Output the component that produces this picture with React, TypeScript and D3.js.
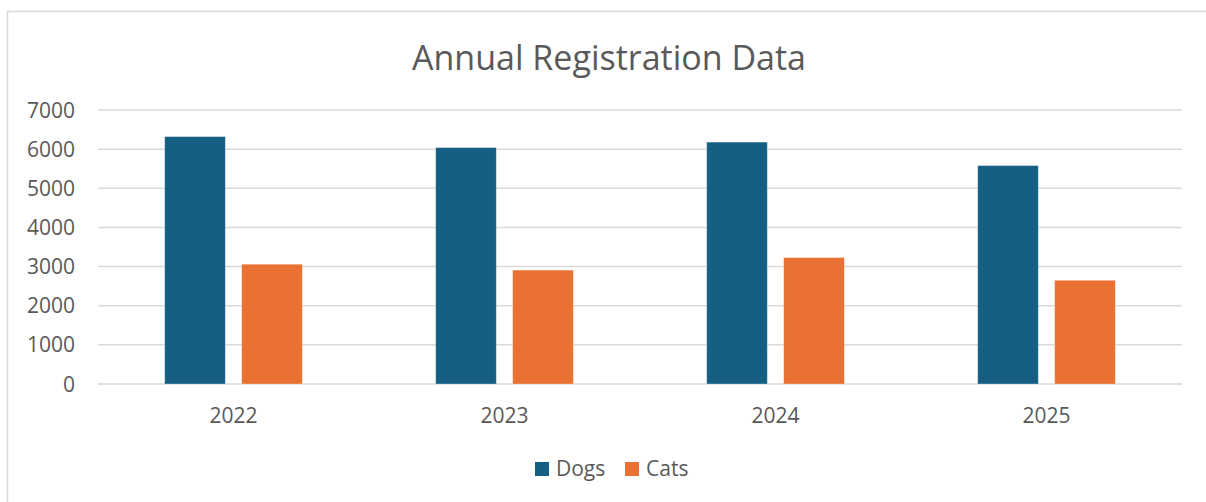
import React, { useEffect, useRef } from 'react';
import * as d3 from 'd3';

const years = ['2022', '2023', '2024', '2025'];
const seriesNames = ['Dogs', 'Cats'];
const dogs = [6320, 6040, 6180, 5580];
const cats = [3060, 2910, 3230, 2650];
const yTicks = [0, 1000, 2000, 3000, 4000, 5000, 6000, 7000];
const colors = ['#156082', '#E97132'];

const W = 1206;
const H = 502;
const FONT = "'Open Sans', sans-serif";

export default function App() {
  const ref = useRef<SVGSVGElement>(null);

  useEffect(() => {
    const svg = d3.select(ref.current);
    svg.selectAll('*').remove();

    const x = d3.scaleBand().domain(years).range([98, 1182]).padding(0);
    const groupW = 137.6;
    const x1 = d3.scaleBand().domain(seriesNames)
      .range([(x.bandwidth() - groupW) / 2, (x.bandwidth() + groupW) / 2])
      .paddingInner(0.213).paddingOuter(0);
    const y = d3.scaleLinear().domain([0, 7000]).range([384, 110]);

    // chart area border
    svg.append('rect')
      .attr('x', 7.5).attr('y', 11.5)
      .attr('width', 1220).attr('height', 520)
      .attr('fill', '#fff').attr('stroke', '#d9d9d9').attr('stroke-width', 1.5);

    svg.append('text')
      .attr('x', 609).attr('y', 70)
      .attr('text-anchor', 'middle')
      .attr('font-family', FONT).attr('font-size', 34)
      .attr('fill', '#595959')
      .text('Annual Registration Data');

    const grid = svg.append('g');
    grid.selectAll('line').data(yTicks).enter().append('line')
      .attr('x1', 98).attr('x2', 1182)
      .attr('y1', d => y(d)).attr('y2', d => y(d))
      .attr('stroke', '#d9d9d9').attr('stroke-width', 1.5);

    grid.selectAll('text').data(yTicks).enter().append('text')
      .attr('x', 75).attr('y', d => y(d))
      .attr('dy', '0.36em')
      .attr('text-anchor', 'end')
      .attr('font-family', FONT).attr('font-size', 21)
      .attr('fill', '#595959')
      .text(d => String(d));

    const table = years.map((yr, i) => ({ year: yr, values: [dogs[i], cats[i]] }));

    const groups = svg.selectAll('.grp').data(table).enter().append('g')
      .attr('transform', d => `translate(${x(d.year)},0)`);

    groups.selectAll('rect')
      .data(d => d.values.map((v, j) => ({ name: seriesNames[j], v, j })))
      .enter().append('rect')
      .attr('x', d => x1(d.name)!)
      .attr('y', d => y(d.v))
      .attr('width', x1.bandwidth())
      .attr('height', d => y(0) - y(d.v))
      .attr('fill', d => colors[d.j])
      .attr('stroke', '#ffffff').attr('stroke-opacity', 0.4).attr('stroke-width', 0.75);

    svg.selectAll('.cat').data(years).enter().append('text')
      .attr('x', d => x(d)! + x.bandwidth() / 2)
      .attr('y', 423)
      .attr('text-anchor', 'middle')
      .attr('font-family', FONT).attr('font-size', 21)
      .attr('fill', '#595959')
      .text(d => d);

    const legendX = [535, 625];
    const legend = svg.selectAll('.leg').data(seriesNames).enter().append('g')
      .attr('transform', (d, i) => `translate(${legendX[i]},462)`);
    legend.append('rect')
      .attr('width', 14).attr('height', 14)
      .attr('fill', (d, i) => colors[i]);
    legend.append('text')
      .attr('x', 21).attr('y', 14)
      .attr('font-family', FONT).attr('font-size', 21)
      .attr('fill', '#595959')
      .text(d => d);
  }, []);

  return (
    <svg ref={ref} width={W} height={H}
      style={{ position: 'absolute', left: 0, top: 0, background: '#fff' }} />
  );
}
